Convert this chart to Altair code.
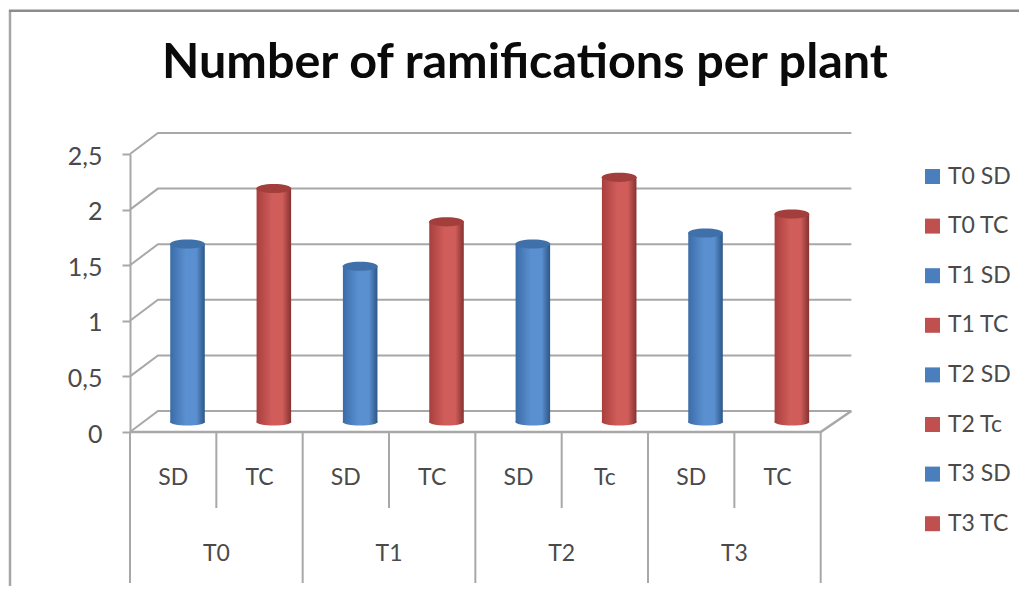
import altair as alt
import pandas as pd

TITLE = "Number of ramifications per plant"
groups = ["T0", "T1", "T2", "T3"]
sub_labels = ["SD", "TC", "SD", "TC", "SD", "Tc", "SD", "TC"]
legend_labels = ["T0 SD", "T0 TC", "T1 SD", "T1 TC", "T2 SD", "T2 Tc", "T3 SD", "T3 TC"]
values = [1.6, 2.1, 1.4, 1.8, 1.6, 2.2, 1.7, 1.87]
y_ticks = [0, 0.5, 1, 1.5, 2, 2.5]

FONT = "Lato"
TXT = "#4a4a4a"
LINE = "#a8a8a8"
# pseudo-3D depth, in data units
DX, DY = 0.324, 0.189
RIGHT = 8.355
BAR_SHIFT, BAR_HALF, BASE = 0.166, 0.2, 0.09
TOP_CAP = "M-1,0A1,0.26,0,1,1,1,0A1,0.26,0,1,1,-1,0Z"
BOTTOM_CAP = "M-1,0A1,0.2,0,1,1,1,0A1,0.2,0,1,1,-1,0Z"

xs = alt.Scale(domain=[0, 8], range=[122, 812.7], nice=False, zero=False)
ys = alt.Scale(domain=[0, 2.5], range=[424, 146], nice=False, zero=False)
y_axis = alt.Axis(
    offset=-122, values=y_ticks, grid=False, domainColor=LINE, domainWidth=2,
    tickColor=LINE, tickWidth=2, tickSize=8, labelFont=FONT, labelFontSize=25,
    labelColor=TXT, labelPadding=20, labelOffset=2, title=None,
    labelExpr="replace(format(datum.value,'.1~f'),'.',',')")
X = lambda f: alt.X(f, type="quantitative", scale=xs, axis=None)
Y = lambda f: alt.Y(f, type="quantitative", scale=ys, axis=y_axis, title=None)

# walls
grid_rows = []
for t in y_ticks:
    grid_rows += [
        dict(t=t, px=0, py=t), dict(t=t, px=DX, py=t + DY), dict(t=t, px=RIGHT, py=t + DY)
    ]
grid_rows = pd.DataFrame(grid_rows)
grid = alt.Chart(grid_rows).mark_line(color=LINE, strokeWidth=2).encode(
    x=X("px"), y=Y("py"), detail="t:N", order="px:Q")

floor_df = pd.DataFrame({"px": [0, 8, RIGHT], "py": [0, 0, DY]})
floor = alt.Chart(floor_df).mark_line(color=LINE, strokeWidth=2.5).encode(
    x=X("px"), y=Y("py"), order="px:Q")

# category separators
short_df = pd.DataFrame({"px": [2 * i + 1 for i in range(4)]})
short = alt.Chart(short_df).mark_rule(color=LINE, strokeWidth=2).encode(
    x=X("px"), y=alt.value(424), y2=alt.value(500))
long_df = pd.DataFrame({"px": [0, 2, 4, 6, 8]})
long = alt.Chart(long_df).mark_rule(color=LINE, strokeWidth=2).encode(
    x=X("px"), y=alt.value(424), y2=alt.value(575))

# frame
frame_l = alt.Chart(pd.DataFrame({"a": [0]})).mark_rule(color="#a6a6a6", strokeWidth=2.5).encode(
    x=alt.value(2), y=alt.value(2), y2=alt.value(578))
frame_t = alt.Chart(pd.DataFrame({"a": [0]})).mark_rule(color="#8c8c8c", strokeWidth=2.5).encode(
    y=alt.value(2.7), x=alt.value(1), x2=alt.value(1011))

# labels
sub_df = pd.DataFrame({"px": [i + 0.5 for i in range(8)], "label": sub_labels})
sub_text = alt.Chart(sub_df).mark_text(font=FONT, fontSize=23, color=TXT).encode(
    x=X("px"), y=alt.value(470), text="label:N")
grp_df = pd.DataFrame({"px": [2 * i + 1 for i in range(4)], "label": groups})
grp_text = alt.Chart(grp_df).mark_text(font=FONT, fontSize=23, color=TXT).encode(
    x=X("px"), y=alt.value(546), text="label:N")

# bars
rows = pd.DataFrame({"i": range(8), "v": values, "label": legend_labels})
rows["cx"] = rows.i + 0.5 + BAR_SHIFT
rows["lo"] = rows.cx - BAR_HALF
rows["hi"] = rows.cx + BAR_HALF
rows["top"] = rows.v + BASE
rows["base"] = BASE


def grad(edge, light, edge2):
    return alt.Gradient(gradient="linear", x1=0, x2=1, y1=0, y2=0, stops=[
        alt.GradientStop(offset=0, color=edge),
        alt.GradientStop(offset=0.45, color=light),
        alt.GradientStop(offset=0.75, color=light),
        alt.GradientStop(offset=1, color=edge2)])


bar_layers = []
for part, g, cap in [
    (rows[rows.i % 2 == 0], grad("#3a6ca8", "#5b90d0", "#2c5688"), "#3f70aa"),
    (rows[rows.i % 2 == 1], grad("#a83f3d", "#d05d5a", "#853230"), "#a23f3d"),
]:
    bar_layers += [
        alt.Chart(part).mark_point(shape=BOTTOM_CAP, size=1225, filled=True, fill=g, opacity=1, strokeWidth=0).encode(
            x=X("cx"), y=Y("base")),
        alt.Chart(part).mark_bar(fill=g).encode(x=X("lo"), x2="hi:Q", y=Y("top"), y2="base:Q"),
        alt.Chart(part).mark_point(shape=TOP_CAP, size=1225, filled=True, fill=cap, opacity=1, strokeWidth=0).encode(
            x=X("cx"), y=Y("top")),
    ]

legend_colors = ["#4a7ebd" if i % 2 == 0 else "#c0504d" for i in range(8)]
legend_layer = alt.Chart(rows).mark_square(size=0, opacity=1).encode(
    x=X("cx"), y=Y("top"),
    color=alt.Color("label:N", scale=alt.Scale(domain=legend_labels, range=legend_colors), legend=alt.Legend(
        title=None, orient="none", legendX=913, legendY=157, symbolType="square", symbolSize=225,
        symbolOpacity=1, labelFont=FONT, labelFontSize=23, labelColor=TXT, labelOffset=4,
        rowPadding=25.6, symbolStrokeWidth=0)))

chart = alt.layer(frame_l, frame_t, grid, floor, short, long, sub_text, grp_text, *bar_layers, legend_layer).properties(
    width=1011, height=578, padding=0, background="white",
    autosize=alt.AutoSizeParams(type="none"),
    title=alt.TitleParams(TITLE, font=FONT, fontSize=48.5, fontWeight="bold", color="#0a0a0a",
                          anchor="start", frame="group", dx=154, dy=118, baseline="alphabetic", offset=0),
).configure_view(stroke=None)

chart.save("out.html", embed_options={"renderer": "svg", "actions": False})
